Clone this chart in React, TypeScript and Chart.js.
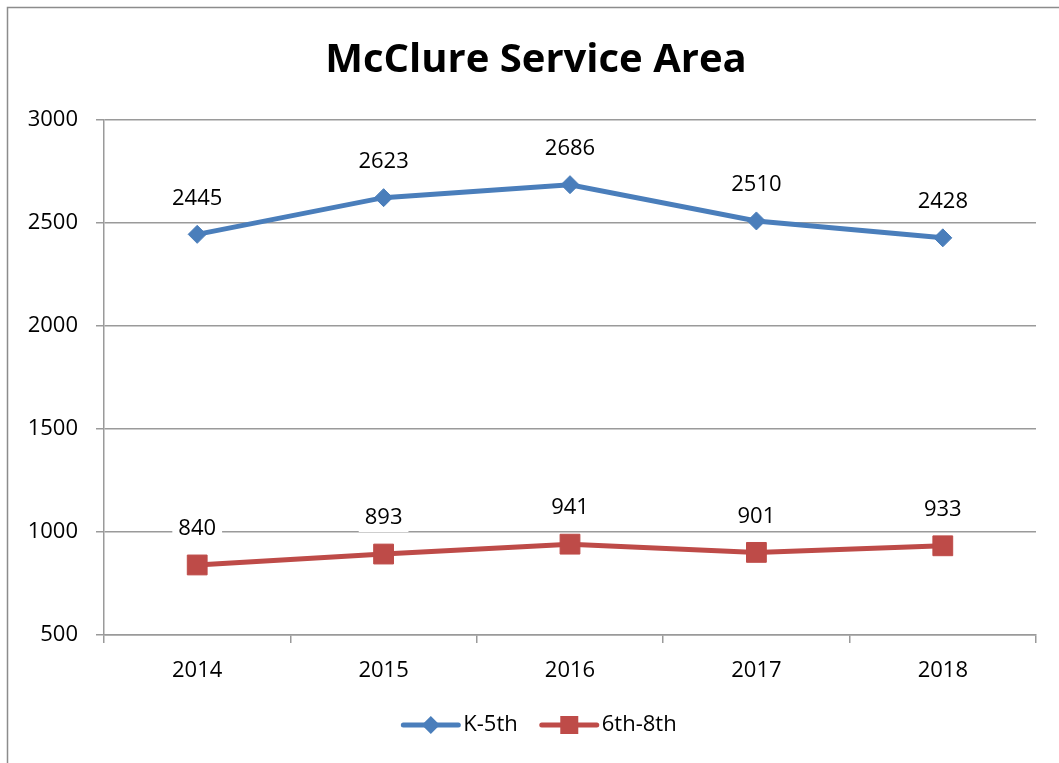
import { useEffect, useRef } from "react";
import { Chart, registerables } from "chart.js";

Chart.register(...registerables);

const title = "McClure Service Area";
const years = ["2014", "2015", "2016", "2017", "2018"];
const seriesNames = ["K-5th", "6th-8th"];
const k5Values = [2445, 2623, 2686, 2510, 2428];
const g68Values = [840, 893, 941, 901, 933];
const yMin = 500;
const yMax = 3000;
const yStep = 500;

const BLUE = "#4A7EBB";
const RED = "#BE4B48";
const GRID = "#9a9a9a";
const FONT = "'Open Sans', sans-serif";

const decorPlugin = {
  id: "decor",
  beforeDraw(chart: any) {
    const ctx = chart.ctx;
    ctx.save();
    ctx.fillStyle = "#ffffff";
    ctx.fillRect(0, 0, chart.width, chart.height);
    ctx.strokeStyle = "#8c8c8c";
    ctx.lineWidth = 1.5;
    ctx.strokeRect(7.5, 7.5, chart.width + 20, chart.height + 20);
    ctx.restore();
  },
  afterDatasetsDraw(chart: any) {
    const ctx = chart.ctx;
    ctx.save();
    ctx.font = `22px ${FONT}`;
    ctx.textAlign = "center";
    ctx.textBaseline = "middle";
    chart.data.datasets.forEach((ds: any, di: number) => {
      const meta = chart.getDatasetMeta(di);
      meta.data.forEach((pt: any, i: number) => {
        const txt = String(ds.data[i]);
        const w = ctx.measureText(txt).width;
        const cy = pt.y - 36;
        ctx.fillStyle = "#ffffff";
        ctx.fillRect(pt.x - w / 2 - 6, cy - 14, w + 12, 28);
        ctx.fillStyle = "#000000";
        ctx.fillText(txt, pt.x, cy);
      });
    });
    ctx.restore();
  },
  afterDraw(chart: any) {
    const ctx = chart.ctx;
    ctx.save();
    // title
    ctx.font = `bold 40px ${FONT}`;
    ctx.fillStyle = "#000000";
    ctx.textAlign = "center";
    ctx.textBaseline = "middle";
    ctx.fillText(title, 536, 61);

    // legend
    ctx.font = `22px ${FONT}`;
    const lineLen = 55;
    const gapText = 5;
    const gapItem = 24;
    const items = chart.data.datasets.map((ds: any) => ({
      label: ds.label,
      color: ds.borderColor,
      style: ds.pointStyle,
      w: ctx.measureText(ds.label).width,
    }));
    let total = 0;
    items.forEach((it: any, i: number) => {
      total += lineLen + gapText + it.w + (i < items.length - 1 ? gapItem : 0);
    });
    let x = 540 - total / 2;
    const y = 725;
    items.forEach((it: any) => {
      ctx.strokeStyle = it.color;
      ctx.lineWidth = 5;
      ctx.lineCap = "round";
      ctx.beginPath();
      ctx.moveTo(x, y);
      ctx.lineTo(x + lineLen, y);
      ctx.stroke();
      const cx = x + lineLen / 2;
      ctx.fillStyle = it.color;
      ctx.beginPath();
      if (it.style === "rectRot") {
        const r = 9;
        ctx.moveTo(cx - r, y);
        ctx.lineTo(cx, y - r);
        ctx.lineTo(cx + r, y);
        ctx.lineTo(cx, y + r);
        ctx.closePath();
      } else {
        ctx.rect(cx - 9, y - 9, 18, 18);
      }
      ctx.fill();
      ctx.fillStyle = "#000000";
      ctx.textAlign = "left";
      ctx.fillText(it.label, x + lineLen + gapText, y);
      x += lineLen + gapText + it.w + gapItem;
    });
    ctx.restore();
  },
};

export default function App() {
  const ref = useRef<HTMLCanvasElement | null>(null);
  useEffect(() => {
    if (!ref.current) return;
    const chart = new Chart(ref.current, {
      type: "line",
      data: {
        labels: years,
        datasets: [
          {
            label: seriesNames[0],
            data: k5Values,
            borderColor: BLUE,
            backgroundColor: BLUE,
            borderWidth: 5,
            pointStyle: "rectRot",
            pointRadius: 9,
            pointBorderWidth: 1,
            pointBackgroundColor: BLUE,
            pointBorderColor: BLUE,
            tension: 0,
          },
          {
            label: seriesNames[1],
            data: g68Values,
            borderColor: RED,
            backgroundColor: RED,
            borderWidth: 5,
            pointStyle: "rect",
            pointRadius: 14,
            pointBorderWidth: 1,
            pointBackgroundColor: RED,
            pointBorderColor: RED,
            tension: 0,
          },
        ],
      },
      options: {
        responsive: false,
        animation: false,
        layout: { padding: { top: 120, right: 23, bottom: 68, left: 0 } },
        plugins: {
          legend: { display: false },
          title: { display: false },
          tooltip: { enabled: false },
        },
        scales: {
          x: {
            offset: true,
            grid: {
              display: true,
              drawOnChartArea: false,
              drawTicks: true,
              tickLength: 8,
              offset: true,
              color: GRID,
              lineWidth: 1.5,
            },
            border: { display: true, color: GRID, width: 1.5 },
            ticks: {
              color: "#000000",
              font: { family: FONT, size: 22 },
              padding: 15,
              maxRotation: 0,
            },
            afterFit: (scale: any) => {
              scale.height = 60;
            },
          },
          y: {
            min: yMin,
            max: yMax,
            grid: {
              color: GRID,
              lineWidth: 1.5,
              drawTicks: true,
              tickLength: 8,
            },
            border: { display: true, color: GRID, width: 1.5 },
            ticks: {
              stepSize: yStep,
              color: "#000000",
              font: { family: FONT, size: 22 },
              padding: 18,
              callback: (v: any) => String(v),
            },
            afterFit: (scale: any) => {
              scale.width = 104;
            },
          },
        },
      },
      plugins: [decorPlugin],
    });
    return () => chart.destroy();
  }, []);
  return (
    <div style={{ position: "fixed", left: 0, top: 0, width: 1059, height: 763 }}>
      <canvas ref={ref} width={1059} height={763} style={{ display: "block" }} />
    </div>
  );
}
